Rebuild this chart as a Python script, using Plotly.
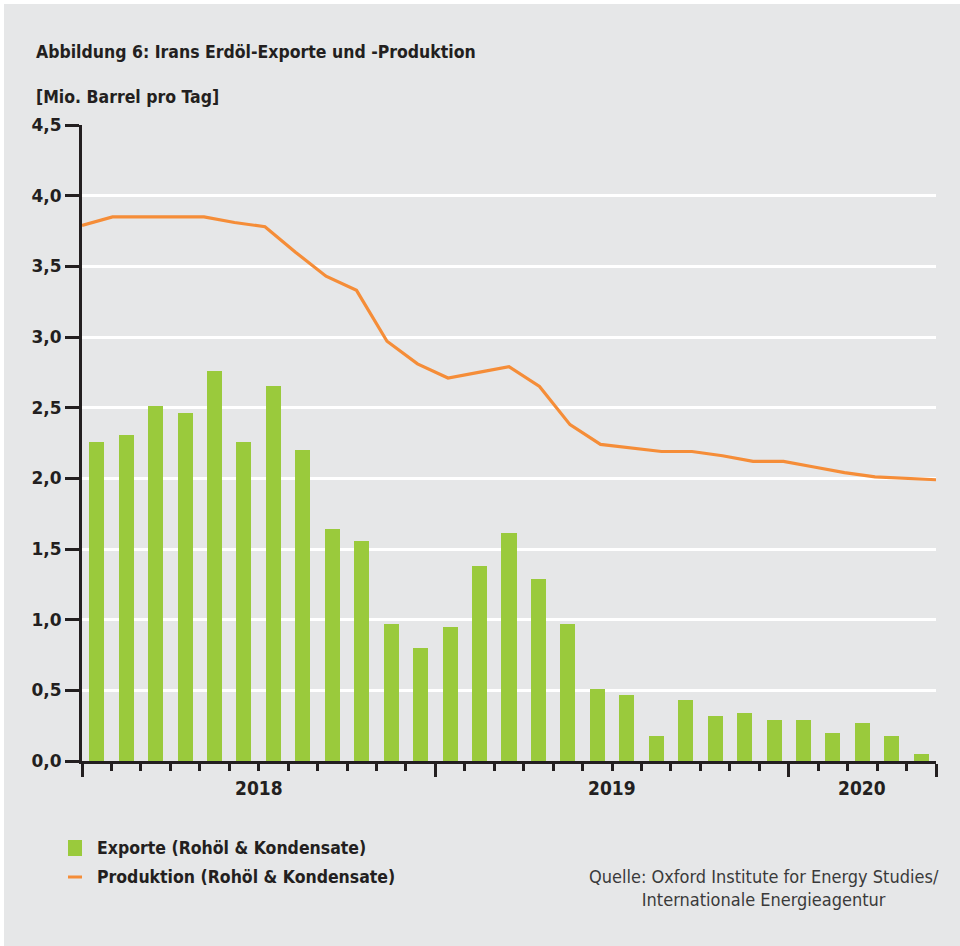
import plotly.graph_objects as go

# Monthly series, Jan 2018 - May 2020 (Mio. Barrel pro Tag)
months = list(range(29))
exporte = [2.26, 2.31, 2.51, 2.46, 2.76, 2.26, 2.65, 2.20, 1.64, 1.56,
           0.97, 0.80, 0.95, 1.38, 1.61, 1.29, 0.97, 0.51, 0.47, 0.18,
           0.43, 0.32, 0.34, 0.29, 0.29, 0.20, 0.27, 0.18, 0.05]
produktion = [3.79, 3.85, 3.85, 3.85, 3.85, 3.81, 3.78, 3.60, 3.43, 3.33,
              2.97, 2.81, 2.71, 2.75, 2.79, 2.65, 2.38, 2.24, 2.215, 2.19,
              2.19, 2.16, 2.12, 2.12, 2.08, 2.04, 2.01, 2.00, 1.99]
years = ["2018", "2019", "2020"]
year_centers = [5.5, 17.5, 26.0]
year_bounds = [-0.5, 11.5, 23.5, 28.5]
y_ticks = [0, 0.5, 1.0, 1.5, 2.0, 2.5, 3.0, 3.5, 4.0, 4.5]
y_labels = ["0,0", "0,5", "1,0", "1,5", "2,0", "2,5", "3,0", "3,5", "4,0", "4,5"]

GREEN = "#9aca3c"
ORANGE = "#f58d38"
DARK = "#231f20"
BG = "#e6e7e8"
COND = "Liberation Sans Narrow, DejaVu Sans Condensed, Arial Narrow, sans-serif"

W, H = 960, 946
L, R, T, B = 82, 24, 125, 185
PW, PH = W - L - R, H - T - B


def px(xp):
    return (xp - L) / PW


def py(yp):
    return (H - B - yp) / PH


fig = go.Figure()
fig.add_trace(go.Bar(x=months, y=exporte, marker_color=GREEN, width=0.51,
                     marker_line_width=0, name="Exporte (Rohöl & Kondensate)",
                     showlegend=False))
fig.add_trace(go.Scatter(x=months, y=produktion, xaxis="x2", mode="lines",
                         line=dict(color=ORANGE, width=3.2),
                         name="Produktion (Rohöl & Kondensate)", showlegend=False))

shapes = [
    # gray panel
    dict(type="rect", xref="paper", yref="paper", x0=px(4), x1=px(960),
         y0=py(946), y1=py(4), fillcolor=BG, line_width=0, layer="below"),
    # legend swatches
    dict(type="rect", xref="paper", yref="paper", x0=px(68), x1=px(82),
         y0=py(856), y1=py(840), fillcolor=GREEN, line_width=0),
    dict(type="line", xref="paper", yref="paper", x0=px(68), x1=px(82),
         y0=py(877), y1=py(877), line=dict(color=ORANGE, width=3)),
]

annotations = [
    dict(text="<b>Abbildung 6: Irans Erdöl-Exporte und -Produktion</b>",
         xref="paper", yref="paper", x=px(34), y=py(52), xanchor="left",
         yanchor="middle", showarrow=False,
         font=dict(family=COND, size=17.5, color=DARK)),
    dict(text="<b>[Mio. Barrel pro Tag]</b>",
         xref="paper", yref="paper", x=px(34), y=py(97), xanchor="left",
         yanchor="middle", showarrow=False,
         font=dict(family=COND, size=17.5, color=DARK)),
    dict(text="<b>Exporte (Rohöl & Kondensate)</b>",
         xref="paper", yref="paper", x=px(95), y=py(848), xanchor="left",
         yanchor="middle", showarrow=False,
         font=dict(family=COND, size=17.5, color=DARK)),
    dict(text="<b>Produktion (Rohöl & Kondensate)</b>",
         xref="paper", yref="paper", x=px(95), y=py(877), xanchor="left",
         yanchor="middle", showarrow=False,
         font=dict(family=COND, size=17.5, color=DARK)),
    dict(text="Quelle: Oxford Institute for Energy Studies/<br>Internationale Energieagentur",
         xref="paper", yref="paper", x=px(941), y=py(888), xanchor="right",
         yanchor="middle", align="center", showarrow=False,
         font=dict(family=COND, size=18, color="#3a3a3a")),
]
for label, c in zip(years, year_centers):
    annotations.append(dict(text=f"<b>{label}</b>", xref="x", yref="paper",
                            x=c, y=py(788), xanchor="center", yanchor="middle",
                            showarrow=False,
                            font=dict(family=COND, size=19, color=DARK)))

fig.update_layout(
    width=W, height=H,
    margin=dict(l=L, r=R, t=T, b=B, pad=0),
    paper_bgcolor="white", plot_bgcolor=BG,
    bargap=0,
    shapes=shapes, annotations=annotations,
    xaxis=dict(range=[-0.5, 28.5], showgrid=False, zeroline=False,
               showline=True, linewidth=3, linecolor=DARK,
               tickmode="array", tickvals=year_bounds,
               ticktext=["", "", "", ""], ticks="outside", ticklen=13,
               tickwidth=3, tickcolor=DARK,
               minor=dict(tickmode="linear", tick0=-0.5, dtick=1,
                          ticks="outside", ticklen=7, tickwidth=3,
                          tickcolor=DARK, showgrid=False)),
    xaxis2=dict(overlaying="x", range=[0, 28], visible=False),
    yaxis=dict(range=[0, 4.5], tickmode="array", tickvals=y_ticks,
               ticktext=y_labels, showgrid=True, gridcolor="white",
               gridwidth=3, zeroline=False, showline=True, linewidth=3,
               linecolor=DARK, ticks="outside", ticklen=14, tickwidth=3,
               tickcolor=DARK,
               tickfont=dict(family="DejaVu Sans", size=17, color=DARK,
                             weight="bold")),
)

fig.write_html("out.html")
